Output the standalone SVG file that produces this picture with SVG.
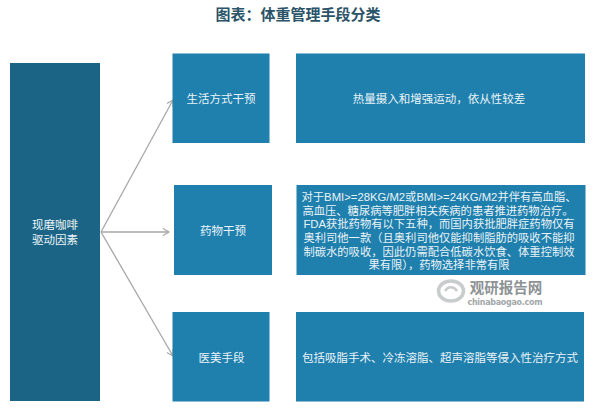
<svg xmlns="http://www.w3.org/2000/svg" width="600" height="410" viewBox="0 0 600 410">
<style>
text{font-family:"Liberation Sans","Noto Sans CJK SC",sans-serif;text-anchor:middle;fill:#eaf4f8}
.t{font-size:11.500px}
.d{font-size:11.300px}
.a{fill:#1f7fad}
.l{fill:none;stroke:#aaa6a6;stroke-width:1.3;marker-end:url(#m)}
</style>
<defs><marker id="m" markerUnits="userSpaceOnUse" markerWidth="10" markerHeight="10" refX="7" refY="5" orient="auto"><path d="M1 1.500L7 5L1 8.500" fill="none" stroke="#aaa6a6" stroke-width="1.200"/></marker></defs>
<rect width="600" height="410" fill="#fff"/>
<text x="298" y="20" style="font-size:15px;font-weight:700;fill:#2b5468;font-family:'Noto Sans CJK SC',serif">图表：体重管理手段分类</text>
<g id="connectors">
<path class="l" d="M101 232L173 100"/>
<path class="l" d="M101 232L169 232"/>
<path class="l" d="M101 232L173 356"/>
</g>
<g id="root"><rect x="10" y="63" width="90" height="338" fill="#1c6485"/><text class="t" x="55" y="229">现磨咖啡</text><text class="t" x="55" y="244">驱动因素</text></g>
<g id="n1"><rect class="a" x="172.500" y="53.500" width="97" height="89.500"/><text class="t" x="221" y="103">生活方式干预</text></g>
<g id="n2"><rect class="a" x="174" y="185" width="98" height="90"/><text class="t" x="223" y="235">药物干预</text></g>
<g id="n3"><rect class="a" x="172.500" y="312" width="97" height="89.500"/><text class="t" x="221.500" y="362">医美手段</text></g>
<g id="d1"><rect class="a" x="296" y="53.500" width="289" height="89.500"/><text class="t" x="439" y="103">热量摄入和增强运动，依从性较差</text></g>
<g id="d2"><rect class="a" x="296.500" y="185" width="289" height="90"/>
<text class="d" x="439" y="201">对于BMI&gt;=28KG/M2或BMI&gt;=24KG/M2并伴有高血脂、</text>
<text class="d" x="438" y="214.500">高血压、糖尿病等肥胖相关疾病的患者推进药物治疗。</text>
<text class="d" x="439" y="228">FDA获批药物有以下五种，而国内获批肥胖症药物仅有</text>
<text class="d" x="439" y="242">奥利司他一款（且奥利司他仅能抑制脂肪的吸收不能抑</text>
<text class="d" x="439" y="255.500">制碳水的吸收，因此仍需配合低碳水饮食、体重控制效</text>
<text class="d" x="439" y="269">果有限），药物选择非常有限</text></g>
<g id="d3"><rect class="a" x="296" y="312" width="288" height="89.500"/><text class="t" x="440" y="362">包括吸脂手术、冷冻溶脂、超声溶脂等侵入性治疗方式</text></g>
<g id="watermark"><ellipse cx="451" cy="291" rx="12.500" ry="10" fill="none" stroke="#c9cccc" stroke-width="3.500"/><path d="M445 291c3-5 9-5 12 0" fill="none" stroke="#c9cccc" stroke-width="2.500"/>
<text x="506" y="293" style="font-size:14.500px;font-weight:700;fill:#8d9295;font-family:'Noto Sans CJK SC',sans-serif">观研报告网</text>
<text x="505" y="305" textLength="75" style="font-size:8px;font-weight:700;fill:#a3a7a9;font-family:'DejaVu Sans',sans-serif">chinabaogao.com</text></g>
</svg>
